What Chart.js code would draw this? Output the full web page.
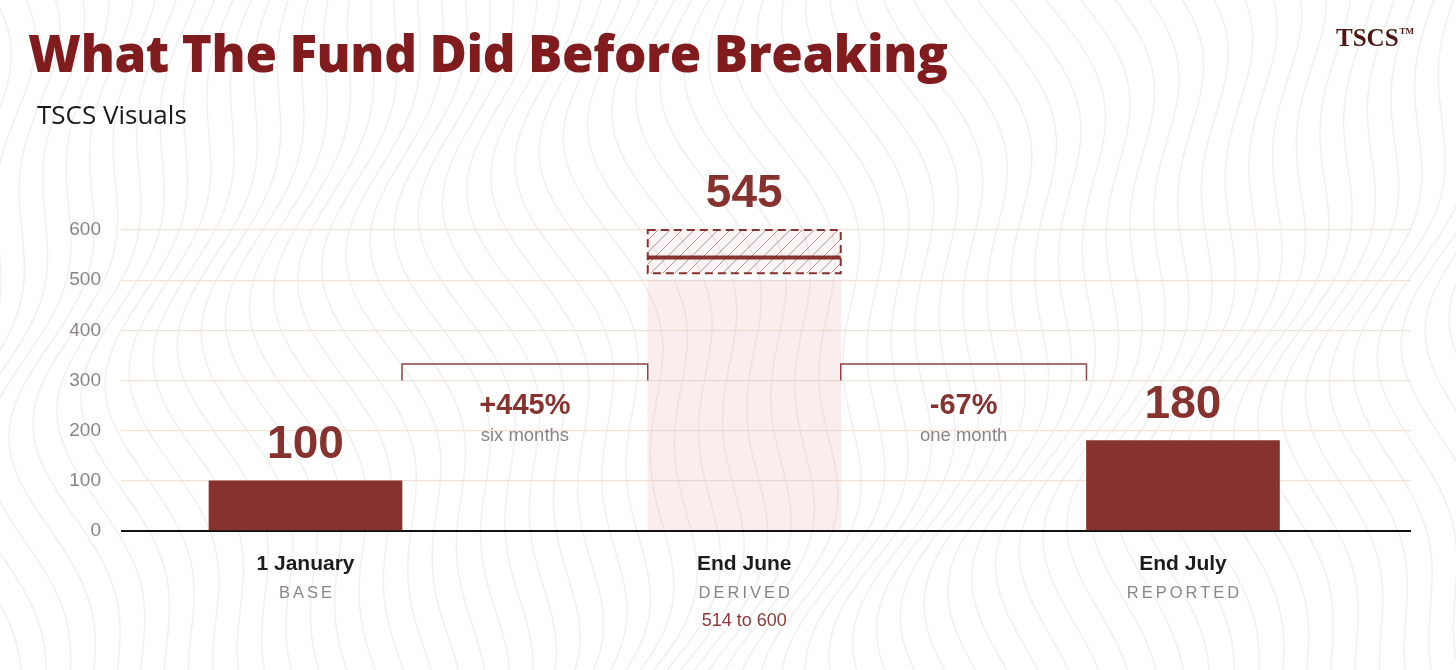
<!DOCTYPE html>
<html><head><meta charset="utf-8">
<script src="https://cdn.jsdelivr.net/npm/chart.js@4.4.1/dist/chart.umd.min.js"></script>
<style>
html,body{margin:0;padding:0;background:#fff;width:1456px;height:670px;overflow:hidden;}
#page{position:relative;width:1456px;height:670px;}
#bg,#chart{position:absolute;left:0;top:0;}
#title{position:absolute;left:28px;top:27px;margin:0;font-family:"Open Sans",sans-serif;font-weight:800;font-size:51px;line-height:1;color:#801c1e;white-space:nowrap;}
#sub{position:absolute;left:37px;top:101px;font-family:"Open Sans",sans-serif;font-size:26px;line-height:1;color:#1b1b1b;white-space:nowrap;}
#logo{position:absolute;left:1336px;top:25px;font-family:"Liberation Serif",serif;font-weight:bold;font-size:25px;line-height:1;color:#4e1716;white-space:nowrap;}
#logo sup{font-size:9px;vertical-align:top;position:relative;top:2px;margin-left:1px;}
</style></head>
<body><div id="page">
<canvas id="bg" width="1456" height="670"></canvas>
<canvas id="chart" width="1456" height="670"></canvas>
<h1 id="title">What The Fund Did Before Breaking</h1>
<div id="sub">TSCS Visuals</div>
<div id="logo">TSCS<sup>TM</sup></div>
</div>
<script>
// ---------- data ----------
const categories   = ['1 January', 'End June', 'End July'];
const subLabels    = ['BASE', 'DERIVED', 'REPORTED'];
const rangeNotes   = ['', '514 to 600', ''];
const reportedVals = [100, null, 180];
const derivedShade = [null, 500, null];
const derivedLow   = [null, 514, null];
const derivedHigh  = [null, 600, null];
const derivedMid   = [null, 545, null];
const valueLabels  = ['100', '545', '180'];
const changeLabels = ['+445%', '-67%'];
const changePeriod = ['six months', 'one month'];
const yTicks       = [0, 100, 200, 300, 400, 500, 600];

// ---------- style ----------
const MAROON = '#86322f';
const BAR_W = 193;
const BRACKET_TOP = 333, BRACKET_LEG = 300;

// fit title width to the reference layout
(function(){
  const t = document.getElementById('title');
  const target = 920;
  const w = t.getBoundingClientRect().width;
  const n = t.textContent.length - 1;
  t.style.letterSpacing = ((target - w) / n) + 'px';
})();

// background contour decoration
(function(){
  const c = document.getElementById('bg').getContext('2d');
  c.strokeStyle = 'rgba(150,140,140,0.13)';
  c.lineWidth = 1.5;
  for (let k = 0; k < 70; k++) {
    const x0 = k * 24 - 140;
    c.beginPath();
    for (let yy = -20; yy <= 690; yy += 5) {
      const xx = x0 + 45 * Math.sin(yy / 120 + k * 0.12) + 22 * Math.sin(yy / 50 + k * 0.25);
      if (yy === -20) c.moveTo(xx, yy); else c.lineTo(xx, yy);
    }
    c.stroke();
  }
})();

// hatch pattern
function hatch(){
  const p = document.createElement('canvas'); p.width = 12; p.height = 12;
  const g = p.getContext('2d');
  g.fillStyle = 'rgba(134,50,47,0.05)'; g.fillRect(0,0,12,12);
  g.strokeStyle = 'rgba(134,50,47,0.5)'; g.lineWidth = 1;
  g.beginPath(); g.moveTo(-1,13); g.lineTo(13,-1); g.stroke();
  return document.getElementById('chart').getContext('2d').createPattern(p,'repeat');
}

const pts = arr => arr.map((v,i)=> v==null ? null : {x:i, y:v}).filter(Boolean);
const rangePts = derivedLow.map((v,i)=> v==null ? null : {x:i, y:[v, derivedHigh[i]]}).filter(Boolean);

const overlay = {
  id: 'overlay',
  afterDatasetsDraw(chart){
    const {ctx, scales:{x, y}} = chart;
    chart.getDatasetMeta(2).data.forEach((el, k) => {
      const p = el.getProps(['x','y','base','width'], true);
      const l = p.x - p.width/2;
      ctx.save();
      ctx.setLineDash([8,5]); ctx.lineWidth = 2; ctx.strokeStyle = MAROON;
      ctx.strokeRect(l, Math.min(p.y, p.base), p.width, Math.abs(p.base - p.y));
      ctx.restore();
      const idx = rangePts[k].x;
      const ym = y.getPixelForValue(derivedMid[idx]);
      ctx.save(); ctx.strokeStyle = MAROON; ctx.lineWidth = 4;
      ctx.beginPath(); ctx.moveTo(l, ym); ctx.lineTo(l + p.width, ym); ctx.stroke(); ctx.restore();
    });
  },
  afterDraw(chart){
    const {ctx, scales:{x, y}} = chart;
    const bottom = y.getPixelForValue(0);
    ctx.save();
    categories.forEach((c, i) => {
      const top = Math.max(...[reportedVals[i], derivedShade[i], derivedHigh[i]].filter(v => v != null));
      const cx = x.getPixelForValue(i);
      ctx.textAlign = 'center'; ctx.textBaseline = 'alphabetic';
      ctx.fillStyle = MAROON; ctx.font = 'bold 46px "Liberation Sans", Arial, sans-serif';
      ctx.fillText(valueLabels[i], cx, y.getPixelForValue(top) - 23);
      ctx.fillStyle = '#1c1c1c'; ctx.font = 'bold 21px "Liberation Sans", Arial, sans-serif';
      ctx.fillText(c, cx, bottom + 39);
      ctx.fillStyle = '#8a8583'; ctx.font = '16.5px "Liberation Sans", Arial, sans-serif';
      ctx.letterSpacing = '3px';
      ctx.fillText(subLabels[i], cx + 1.5, bottom + 67);
      ctx.letterSpacing = '0px';
      if (rangeNotes[i]) {
        ctx.fillStyle = '#8b3a3a'; ctx.font = '18px "Liberation Sans", Arial, sans-serif';
        ctx.fillText(rangeNotes[i], cx, bottom + 95);
      }
    });
    changeLabels.forEach((lab, j) => {
      const l = x.getPixelForValue(j) + BAR_W/2;
      const r = x.getPixelForValue(j+1) - BAR_W/2;
      const yt = y.getPixelForValue(BRACKET_TOP), yl = y.getPixelForValue(BRACKET_LEG);
      ctx.strokeStyle = '#8e4442'; ctx.lineWidth = 1.5;
      ctx.beginPath(); ctx.moveTo(l, yl); ctx.lineTo(l, yt); ctx.lineTo(r, yt); ctx.lineTo(r, yl); ctx.stroke();
      const cx = (l + r) / 2;
      ctx.textAlign = 'center';
      ctx.fillStyle = MAROON; ctx.font = 'bold 29px "Liberation Sans", Arial, sans-serif';
      ctx.fillText(lab, cx, yl + 33);
      ctx.fillStyle = '#8a8583'; ctx.font = '18.5px "Liberation Sans", Arial, sans-serif';
      ctx.fillText(changePeriod[j], cx, yl + 60);
    });
    ctx.restore();
  }
};

new Chart(document.getElementById('chart'), {
  type: 'bar',
  data: {
    datasets: [
      { label: 'Reported', data: pts(reportedVals), backgroundColor: MAROON, barThickness: BAR_W, order: 1 },
      { label: 'Derived shade', data: pts(derivedShade), backgroundColor: 'rgba(220,150,140,0.16)', barThickness: BAR_W, order: 3 },
      { label: 'Derived range', data: rangePts, backgroundColor: hatch(), barThickness: BAR_W, order: 2 }
    ]
  },
  options: {
    responsive: false,
    animation: false,
    devicePixelRatio: 1,
    layout: { padding: { top: 230, right: 45, bottom: 139, left: 0 } },
    plugins: { legend: { display: false }, tooltip: { enabled: false } },
    datasets: { bar: { grouped: false } },
    scales: {
      x: { type: 'linear', min: -0.4205, max: 2.5197, offset: false, display: false },
      y: {
        min: 0, max: 600,
        afterBuildTicks: s => { s.ticks = yTicks.map(v => ({ value: v })); },
        afterFit: s => { s.width = 121; },
        border: { display: false },
        grid: {
          drawTicks: false,
          color: c => c.tick.value === 0 ? '#111111' : '#f0e3da',
          lineWidth: c => c.tick.value === 0 ? 2 : 1.2
        },
        ticks: { padding: 20, color: '#8a8583', font: { family: '"Liberation Sans", Arial, sans-serif', size: 19 } }
      }
    }
  },
  plugins: [overlay]
});
</script>
</body></html>
